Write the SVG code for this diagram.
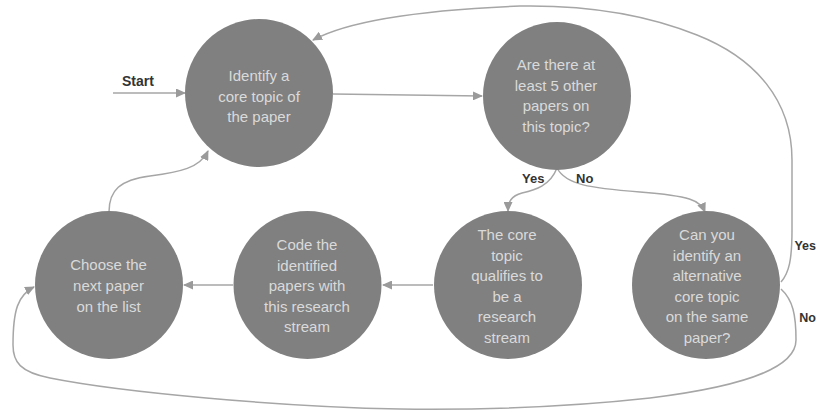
<svg xmlns="http://www.w3.org/2000/svg" width="817" height="412" viewBox="0 0 817 412">
<defs>
<marker id="arr" markerUnits="userSpaceOnUse" markerWidth="10" markerHeight="9" refX="9" refY="4.5" orient="auto">
<path d="M0,0 L10,4.5 L0,9 z" fill="#9a9a9a"/>
</marker>
<style>
.node circle{fill:#808080;}
.node text{font-family:"Liberation Sans",Arial,sans-serif;font-size:15px;fill:#dadada;text-anchor:middle;}
.conn path{fill:none;stroke:#a6a6a6;stroke-width:1.5;}
.lbl{font-family:"Liberation Sans",Arial,sans-serif;font-size:13px;font-weight:bold;fill:#333;}
</style>
</defs>
<rect width="817" height="412" fill="#fff"/>
<g id="connectors" class="conn">
<path d="M113,93 L185,93" marker-end="url(#arr)"/>
<path d="M333,94 L482,96" marker-end="url(#arr)"/>
<path d="M557,168 C550,186 535,190 522,193 C511,196 508,202 508,211" marker-end="url(#arr)"/>
<path d="M557,168 C566,185 590,188 640,192 C690,196 700,200 705,212" marker-end="url(#arr)"/>
<path d="M781,282 C789,273 792,260 792,230 L792,160 C792,100 755,58 697,35 C640,12 580,5 520,6 C420,10 350,20 313,40" marker-end="url(#arr)"/>
<path d="M109,212 C109,190 120,180 150,176 C180,172 200,168 208,151" marker-end="url(#arr)"/>
<path d="M233,285 L184,285" marker-end="url(#arr)"/>
<path d="M433,285 L383,285" marker-end="url(#arr)"/>
<path d="M781,289 C793,300 796,315 796,340 C796,365 755,385 650,398 C560,408 480,410 400,409 C280,407 120,392 50,378 C20,372 13,362 13,345 C13,310 18,295 34,287" marker-end="url(#arr)"/>
</g>
<text class="lbl" x="122" y="86" style="font-size:14px">Start</text>
<text class="lbl" x="522" y="183">Yes</text>
<text class="lbl" x="576" y="183">No</text>
<text class="lbl" x="816" y="250" style="font-size:12.5px;text-anchor:end">Yes</text>
<text class="lbl" x="816" y="322" style="font-size:12.5px;text-anchor:end">No</text>
<g id="n1" class="node">
<circle cx="259" cy="93" r="74"/>
<text x="259" y="81">Identify a</text>
<text x="259" y="101.5">core topic of</text>
<text x="259" y="122">the paper</text>
</g>
<g id="n2" class="node">
<circle cx="557" cy="96" r="74"/>
<text x="556" y="70">Are there at</text>
<text x="556" y="90.5">least 5 other</text>
<text x="556" y="111">papers on</text>
<text x="556" y="131.5">this topic?</text>
</g>
<g id="n3" class="node">
<circle cx="508" cy="285" r="74"/>
<text x="507" y="240">The core</text>
<text x="507" y="260.5">topic</text>
<text x="507" y="281">qualifies to</text>
<text x="507" y="301.5">be a</text>
<text x="507" y="322">research</text>
<text x="507" y="342.5">stream</text>
</g>
<g id="n4" class="node">
<circle cx="706" cy="285" r="74"/>
<text x="707" y="240">Can you</text>
<text x="707" y="260.5">identify an</text>
<text x="707" y="281">alternative</text>
<text x="707" y="301.5">core topic</text>
<text x="707" y="322">on the same</text>
<text x="707" y="342.5">paper?</text>
</g>
<g id="n5" class="node">
<circle cx="307.5" cy="285" r="74"/>
<text x="307" y="250">Code the</text>
<text x="307" y="270.5">identified</text>
<text x="307" y="291">papers with</text>
<text x="307" y="311.5">this research</text>
<text x="307" y="332">stream</text>
</g>
<g id="n6" class="node">
<circle cx="109" cy="285" r="74"/>
<text x="108.5" y="270">Choose the</text>
<text x="108.5" y="291">next paper</text>
<text x="108.5" y="312">on the list</text>
</g>
</svg>
